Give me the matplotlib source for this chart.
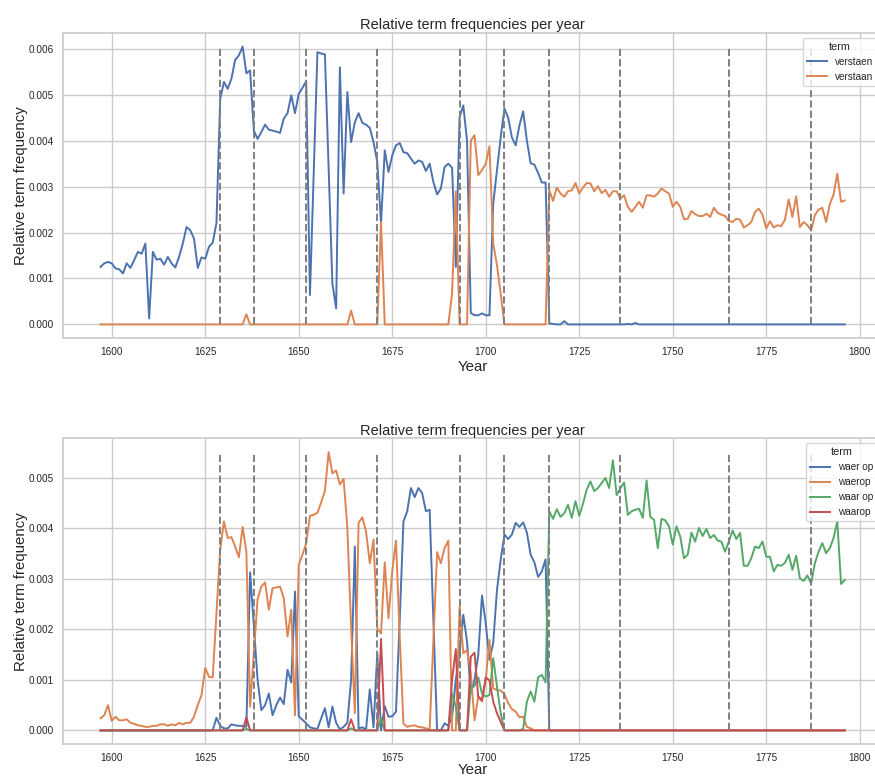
import matplotlib
matplotlib.use("Agg")
import matplotlib.pyplot as plt
import numpy as np


YEARS = list(range(1597, 1797))
EVENT_YEARS = [1629, 1638, 1652, 1671, 1693, 1705, 1717, 1736, 1765, 1787]

# --- top panel: verstaen / verstaan ---
verstaen = [
    0.00125, 0.00133, 0.00136, 0.00133, 0.00122, 0.00120, 0.00111, 0.00133,
    0.00123, 0.00140, 0.00158, 0.00154, 0.00176, 0.00013, 0.00158, 0.00141,
    0.00143, 0.00130, 0.00147, 0.00133, 0.00124, 0.00147, 0.00176, 0.00212,
    0.00205, 0.00187, 0.00123, 0.00146, 0.00143, 0.00169, 0.00178, 0.00221,
    0.00491, 0.00528, 0.00513, 0.00535, 0.00576, 0.00586, 0.00605, 0.00547,
    0.00553, 0.00422, 0.00404, 0.00419, 0.00435, 0.00424, 0.00422, 0.00420,
    0.00417, 0.00448, 0.00460, 0.00499, 0.00460, 0.00502, 0.00515, 0.00530,
    0.00064, 0.00328, 0.00593, 0.00590, 0.00588, 0.00338, 0.00089, 0.00035,
    0.00560, 0.00285, 0.00506, 0.00397, 0.00440, 0.00460, 0.00439, 0.00435,
    0.00428, 0.00397, 0.00354, 0.00220, 0.00379, 0.00332, 0.00368, 0.00390,
    0.00395, 0.00375, 0.00373, 0.00361, 0.00350, 0.00357, 0.00354, 0.00334,
    0.00350, 0.00310, 0.00283, 0.00296, 0.00343, 0.00350, 0.00341, 0.00125,
    0.00451, 0.00477, 0.00400, 0.00025, 0.00020, 0.00020, 0.00024, 0.00020,
    0.00020, 0.00263, 0.00336, 0.00408, 0.00470, 0.00450, 0.00407, 0.00390,
    0.00433, 0.00464, 0.00400, 0.00351, 0.00348, 0.00330, 0.00309, 0.00309,
    0.00002, 0.00001, 0.0, 0.0, 0.00007,
] + [0.0] * 16 + [0.00001, 0.0, 0.00003] + [0.0] * 56

verstaan = (
    [0.0] * 39 + [0.00022] + [0.0] * 27 + [0.00030] + [0.0] * 7 + [0.00223]
    + [0.0] * 18 + [0.00067, 0.00290] + [0.0] * 3
    + [0.00400, 0.00412, 0.00325, 0.00336, 0.00350, 0.00388, 0.00176,
       0.00129, 0.00067]
    + [0.0] * 12
    + [
        0.00292, 0.00269, 0.00298, 0.00285, 0.00278, 0.00290, 0.00292,
        0.00308, 0.00285, 0.00298, 0.00308, 0.00307, 0.00290, 0.00301,
        0.00286, 0.00293, 0.00278, 0.00290, 0.00290, 0.00274, 0.00281,
        0.00256, 0.00245, 0.00256, 0.00267, 0.00254, 0.00281, 0.00281,
        0.00278, 0.00285, 0.00296, 0.00290, 0.00285, 0.00256, 0.00267,
        0.00256, 0.00229, 0.00230, 0.00247, 0.00240, 0.00236, 0.00236,
        0.00241, 0.00234, 0.00254, 0.00243, 0.00239, 0.00236, 0.00225,
        0.00223, 0.00230, 0.00228, 0.00211, 0.00216, 0.00223, 0.00245,
        0.00252, 0.00239, 0.00209, 0.00225, 0.00211, 0.00216, 0.00214,
        0.00228, 0.00272, 0.00234, 0.00279, 0.00212, 0.00223, 0.00216,
        0.00205, 0.00238, 0.00250, 0.00254, 0.00223, 0.00262, 0.00283,
        0.00328, 0.00267, 0.00270,
    ]
)

# --- bottom panel: waer op / waerop / waar op / waarop ---
waer_op = [0.0] * 31 + [
    0.00025, 0.00009, 0.00004, 0.00004, 0.00012, 0.00010, 0.00009, 0.00009,
    0.00007, 0.00313, 0.00206, 0.00100, 0.00040, 0.00050, 0.00073, 0.00030,
    0.00050, 0.00065, 0.00052, 0.00120, 0.00095, 0.00275, 0.00028, 0.00021,
    0.00014, 0.00006, 0.00004, 0.00003, 0.00024, 0.00044, 0.00006, 0.00047,
    0.00015, 0.00002, 0.00007, 0.00015, 0.00100, 0.00364, 0.00004, 0.00006,
    0.00002, 0.00081, 0.00006, 0.00153, 0.0, 0.00048, 0.00027, 0.00028,
    0.00037, 0.00220, 0.00414, 0.00434, 0.00480, 0.00462, 0.00480, 0.00470,
    0.00434, 0.00437, 0.00219, 0.0, 0.0, 0.00014, 0.00009, 0.00027,
    0.00100, 0.00153, 0.00229, 0.00176, 0.00073, 0.00100, 0.00149, 0.00267,
    0.00212, 0.00140, 0.00173, 0.00278, 0.00338, 0.00388, 0.00379, 0.00388,
    0.00411, 0.00403, 0.00412, 0.00392, 0.00348, 0.00333, 0.00304, 0.00315,
    0.00339,
] + [0.0] * 80

waerop = [
    0.00024, 0.00030, 0.00050, 0.00019, 0.00027, 0.00020, 0.00020, 0.00022,
    0.00015, 0.00013, 0.00010, 0.00009, 0.00007, 0.00007, 0.00009, 0.00009,
    0.00012, 0.00012, 0.00009, 0.00012, 0.00010, 0.00015, 0.00012, 0.00015,
    0.00015, 0.00027, 0.00050, 0.00070, 0.00124, 0.00106, 0.00105, 0.00230,
    0.00358, 0.00414, 0.00381, 0.00383, 0.00364, 0.00343, 0.00403, 0.00354,
    0.00047, 0.00153, 0.00260, 0.00285, 0.00293, 0.00239, 0.00282, 0.00283,
    0.00285, 0.00262, 0.00186, 0.00239, 0.00030, 0.00328, 0.00348, 0.00371,
    0.00425, 0.00427, 0.00431, 0.00452, 0.00474, 0.00551, 0.00509, 0.00515,
    0.00487, 0.00498, 0.00401, 0.00206, 0.00034, 0.00411, 0.00422, 0.00394,
    0.00331, 0.00378, 0.00202, 0.00192, 0.00333, 0.00222, 0.00315, 0.00376,
    0.00186, 0.00013, 0.00007, 0.00009, 0.00010, 0.00007, 0.00006, 0.00004,
    0.00002, 0.00180, 0.00353, 0.00331, 0.00361, 0.00376, 0.0, 0.0,
    0.00245, 0.00153, 0.00159, 0.00113, 0.00020, 0.00067, 0.00057, 0.00100,
    0.00179, 0.00083, 0.00080, 0.00079, 0.00072, 0.00054, 0.00042, 0.00037,
    0.00026, 0.00027, 0.00007, 0.00004,
] + [0.0] * 84

waar_op = (
    [0.0] * 39 + [0.00003] + [0.0] * 27 + [0.00004] + [0.0] * 7 + [0.00024]
    + [0.0] * 18 + [0.00073, 0.00047] + [0.0] * 3
    + [0.00083, 0.00088, 0.00105, 0.00073, 0.00067, 0.00070, 0.00143,
       0.00087, 0.00034]
    + [0.0] * 5
    + [0.00003, 0.00057, 0.00077, 0.00057, 0.00105, 0.00110, 0.00095]
    + [
        0.00434, 0.00419, 0.00438, 0.00423, 0.00430, 0.00447, 0.00421,
        0.00454, 0.00425, 0.00449, 0.00477, 0.00493, 0.00474, 0.00480,
        0.00490, 0.00500, 0.00480, 0.00535, 0.00466, 0.00480, 0.00491,
        0.00427, 0.00434, 0.00437, 0.00439, 0.00421, 0.00495, 0.00423,
        0.00417, 0.00361, 0.00419, 0.00416, 0.00404, 0.00368, 0.00404,
        0.00384, 0.00341, 0.00348, 0.00392, 0.00374, 0.00401, 0.00385,
        0.00399, 0.00381, 0.00387, 0.00376, 0.00374, 0.00354, 0.00374,
        0.00396, 0.00379, 0.00391, 0.00326, 0.00326, 0.00341, 0.00364,
        0.00361, 0.00374, 0.00344, 0.00344, 0.00315, 0.00328, 0.00326,
        0.00332, 0.00348, 0.00318, 0.00346, 0.00301, 0.00296, 0.00307,
        0.00291, 0.00331, 0.00354, 0.00371, 0.00351, 0.00361, 0.00381,
        0.00414, 0.00290, 0.00298,
    ]
)

waarop = (
    [0.0] * 39 + [0.00026] + [0.0] * 27 + [0.00022] + [0.0] * 7 + [0.00181]
    + [0.0] * 18 + [0.00100, 0.00161] + [0.0] * 3
    + [0.00146, 0.00154, 0.00067, 0.00060, 0.00105, 0.00099, 0.00057,
       0.00034, 0.00017]
    + [0.0] * 92
)

TOP_TERMS = ["verstaen", "verstaan"]
BOTTOM_TERMS = ["waer op", "waerop", "waar op", "waarop"]
PALETTE = ["#4C72B0", "#DD8452", "#55A868", "#C44E52"]
TEXT = "#262626"


def style_axes(ax):
    ax.set_facecolor("white")
    for spine in ax.spines.values():
        spine.set_color("#cccccc")
        spine.set_linewidth(1.25)
    ax.grid(True, color="#cccccc", linewidth=1)
    ax.set_axisbelow(True)
    ax.tick_params(length=0, pad=6.5, labelsize=7.2, colors=TEXT)


def draw_panel(ax, series, labels, xlabelpad):
    years = np.array(YEARS)
    for values, label, color in zip(series, labels, PALETTE):
        ax.plot(years, values, color=color, linewidth=1.4, label=label)
    top = max(max(v) for v in series)
    ax.vlines(EVENT_YEARS, 0, top, colors="grey", linestyles="--", linewidth=1.4)
    style_axes(ax)
    ax.set_title("Relative term frequencies per year", fontsize=10.5, color=TEXT, pad=2.5)
    ax.set_xlabel("Year", fontsize=10.8, color=TEXT, labelpad=xlabelpad)
    ax.set_ylabel("Relative term frequency", fontsize=10.8, color=TEXT, labelpad=1)
    ax.set_xticks([1600, 1625, 1650, 1675, 1700, 1725, 1750, 1775, 1800])
    ax.yaxis.set_major_formatter(matplotlib.ticker.FormatStrFormatter("%.3f"))
    leg = ax.legend(title="term", loc="upper right", fontsize=7.2,
                    title_fontsize=7.8, frameon=True, fancybox=True)
    leg.get_frame().set_edgecolor("#cccccc")
    for t in leg.get_texts():
        t.set_color(TEXT)
    leg.get_title().set_color(TEXT)


def main():
    plt.rcParams["font.family"] = ["Liberation Sans", "DejaVu Sans"]
    fig = plt.figure(figsize=(8.75, 7.76), dpi=100)
    ax_top = fig.add_axes([0.07234, 0.56405, 0.93566, 0.39381])
    ax_bottom = fig.add_axes([0.07234, 0.04085, 0.93566, 0.39433])

    draw_panel(ax_top, [verstaen, verstaan], TOP_TERMS, 2)
    ax_top.set_yticks([0.0, 0.001, 0.002, 0.003, 0.004, 0.005, 0.006])

    draw_panel(ax_bottom, [waer_op, waerop, waar_op, waarop], BOTTOM_TERMS, 0)
    ax_bottom.set_yticks([0.0, 0.001, 0.002, 0.003, 0.004, 0.005])

    fig.savefig("out.png", dpi=100, facecolor="white")
    plt.close(fig)


if __name__ == "__main__":
    main()
